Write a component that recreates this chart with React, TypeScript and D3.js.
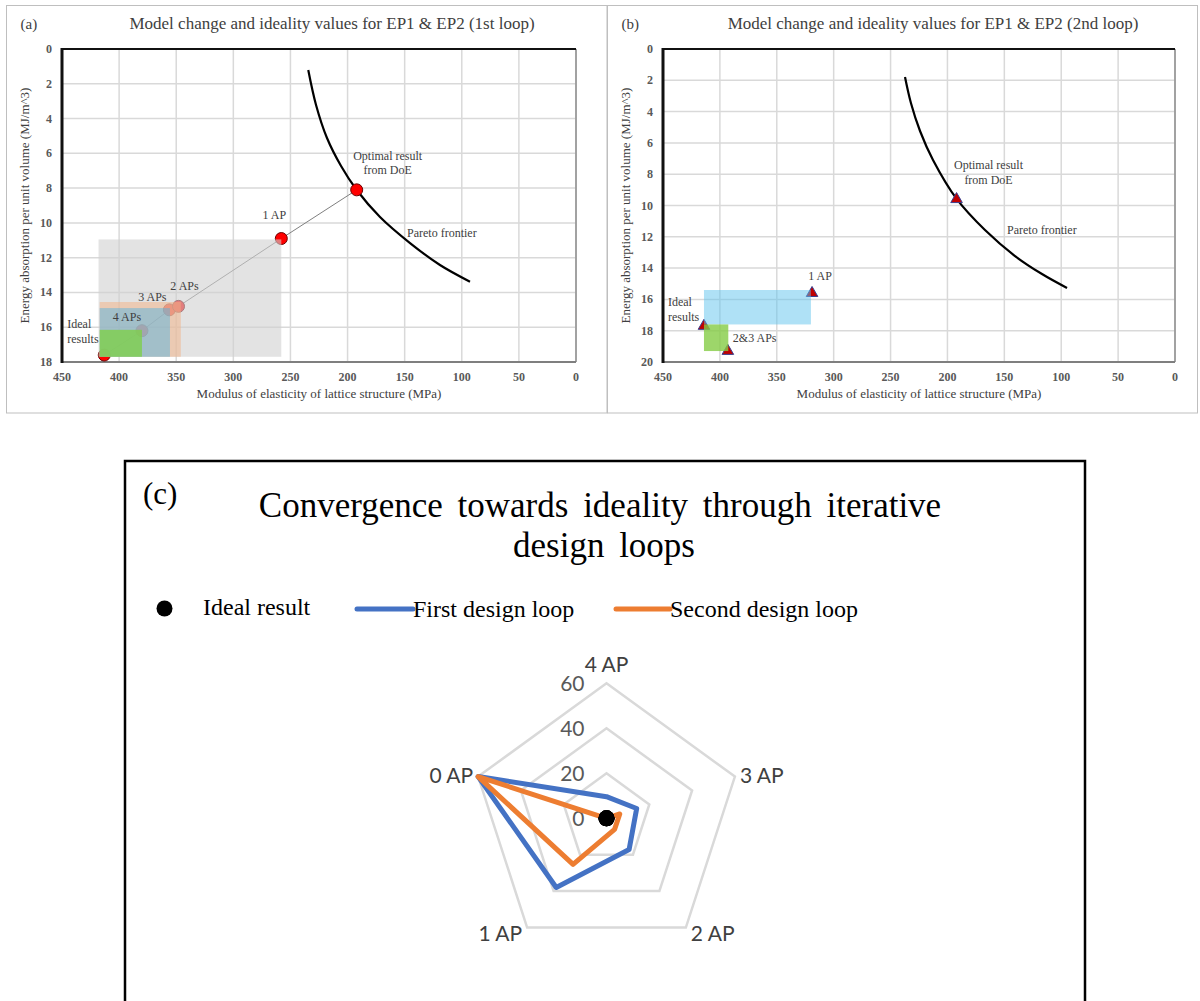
import React from "react";
import * as d3 from "d3";

// ---------------- Data: panels (a) and (b) ----------------
const xTickValues = [450, 400, 350, 300, 250, 200, 150, 100, 50, 0];
const yTickValuesA = [0, 2, 4, 6, 8, 10, 12, 14, 16, 18];
const yTickValuesB = [0, 2, 4, 6, 8, 10, 12, 14, 16, 18, 20];

const paretoA: [number, number][] = [
  [234.4, 1.21], [227.6, 3.22], [218.0, 5.12], [205.7, 6.73], [192.0, 8.11],
  [171.6, 9.66], [145.3, 11.16], [119.1, 12.42], [92.8, 13.38],
];
const paretoB: [number, number][] = [
  [237.3, 1.79], [232.1, 3.45], [224.1, 5.24], [212.7, 7.09], [191.9, 9.58],
  [167.0, 11.57], [140.6, 13.23], [116.9, 14.38], [94.9, 15.27],
];

const pointNamesA = ["Ideal results", "4 APs", "3 APs", "2 APs", "1 AP", "Optimal result"];
const pointXA = [413, 380, 356, 348, 258, 192];
const pointYA = [17.6, 16.2, 15.0, 14.8, 10.9, 8.1];

const pointNamesB = ["Ideal results", "2&3 APs", "1 AP", "Optimal result"];
const pointXB = [414, 393, 319, 192];
const pointYB = [17.7, 19.3, 15.6, 9.6];

// ranges of the shaded regions [x0, x1, y0, y1]
const rectsA: [number, number, number, number][] = [
  [418, 258, 10.95, 17.7],
  [417, 346, 14.55, 17.7],
  [417, 355.5, 14.9, 17.7],
  [417, 380, 16.15, 17.7],
];
const rectsB: [number, number, number, number][] = [
  [414, 320, 15.4, 17.6],
  [414, 392.6, 17.6, 19.3],
];

// ---------------- Data: panel (c) radar ----------------
const radarAxes = ["4 AP", "3 AP", "2 AP", "1 AP", "0 AP"];
const firstLoop = [9.6, 14.1, 17.1, 38, 60];
const secondLoop = [0, 6.2, 6.1, 25.3, 60];
const idealResult = [0, 0, 0, 0, 0];
const radarTicks = [0, 20, 40, 60];

// ---------------- Styles ----------------
const SERIF = '"Liberation Serif", "Times New Roman", serif';
const SANS = 'Lato, "Open Sans", "Liberation Sans", sans-serif';
const TXT = "#404040";
const GRID = "#d9d9d9";

const rectStylesA = [
  { fill: "#d0d0d0", opacity: 0.6 },
  { fill: "#f4b183", opacity: 0.5 },
  { fill: "#5ab4e0", opacity: 0.5 },
  { fill: "#7ed04b", opacity: 0.8 },
];
const rectStylesB = [
  { fill: "#5fc3ee", opacity: 0.5 },
  { fill: "#84cc45", opacity: 0.8 },
];

type Label = { lines: string[]; idx: number; dx: number; dy: number; anchor: string; fromCurve?: boolean };

const labelsA: Label[] = [
  { lines: ["1 AP"], idx: 4, dx: -7, dy: -20, anchor: "middle" },
  { lines: ["2 APs"], idx: 3, dx: 6, dy: -16, anchor: "middle" },
  { lines: ["3 APs"], idx: 2, dx: -17, dy: -9, anchor: "middle" },
  { lines: ["4 APs"], idx: 1, dx: -15, dy: -10, anchor: "middle" },
  { lines: ["Ideal", "results"], idx: 0, dx: -37, dy: -27, anchor: "start" },
  { lines: ["Optimal result", "from DoE"], idx: 5, dx: 31, dy: -30, anchor: "middle" },
  { lines: ["Pareto frontier"], idx: 6, dx: -3, dy: -6, anchor: "start", fromCurve: true },
];
const labelsB: Label[] = [
  { lines: ["1 AP"], idx: 2, dx: 8, dy: -13, anchor: "middle" },
  { lines: ["Ideal", "results"], idx: 0, dx: -36, dy: -20, anchor: "start" },
  { lines: ["2&3 APs"], idx: 1, dx: 5, dy: -9, anchor: "start" },
  { lines: ["Optimal result", "from DoE"], idx: 3, dx: 32, dy: -30, anchor: "middle" },
  { lines: ["Pareto frontier"], idx: 5, dx: 22, dy: 4, anchor: "start", fromCurve: true },
];

type PanelProps = {
  frame: { x: number; y: number; w: number; h: number };
  plot: { left: number; top: number; right: number; bottom: number };
  yMax: number;
  yTicks: number[];
  pareto: [number, number][];
  px: number[];
  py: number[];
  rects: [number, number, number, number][];
  rectStyles: { fill: string; opacity: number }[];
  labels: Label[];
  marker: "circle" | "triangle";
  connect: boolean;
  title: string;
  titleX: number;
  tag: string;
  yTitleX: number;
};

function ScatterPanel(p: PanelProps) {
  const x = d3.scaleLinear().domain([450, 0]).range([p.plot.left, p.plot.right]);
  const y = d3.scaleLinear().domain([0, p.yMax]).range([p.plot.top, p.plot.bottom]);
  const curve = d3
    .line<[number, number]>()
    .x((d) => x(d[0]))
    .y((d) => y(d[1]))
    .curve(d3.curveCatmullRom.alpha(0.5));
  const idxs = p.px.map((_, i) => i);
  const connector = d3
    .line<number>()
    .x((i) => x(p.px[i]))
    .y((i) => y(p.py[i]));
  const tri = d3.symbol().type(d3.symbolTriangle).size(58)() as string;
  const midY = (p.plot.top + p.plot.bottom) / 2;
  const midX = (p.plot.left + p.plot.right) / 2;
  return (
    <g>
      <rect x={p.frame.x} y={p.frame.y} width={p.frame.w} height={p.frame.h} fill="#fff" stroke="#bfbfbf" strokeWidth={1} />
      <text x={p.frame.x + 14} y={29} fontFamily={SERIF} fontSize={15} fill={TXT}>{p.tag}</text>
      <text x={p.titleX} y={29} textAnchor="middle" fontFamily={SERIF} fontSize={17} fill={TXT}>{p.title}</text>
      {/* grid */}
      {xTickValues.map((v) => (
        <line key={"gx" + v} x1={x(v)} x2={x(v)} y1={p.plot.top} y2={p.plot.bottom} stroke={GRID} strokeWidth={1.5} />
      ))}
      {p.yTicks.map((v) => (
        <line key={"gy" + v} x1={p.plot.left} x2={p.plot.right} y1={y(v)} y2={y(v)} stroke={GRID} strokeWidth={1.5} />
      ))}
      {/* frame lines */}
      <line x1={p.plot.right} x2={p.plot.right} y1={p.plot.top} y2={p.plot.bottom} stroke="#8c8c8c" strokeWidth={1.5} />
      <line x1={p.plot.left} x2={p.plot.right} y1={p.plot.bottom} y2={p.plot.bottom} stroke="#7f7f7f" strokeWidth={2} />
      <line x1={p.plot.left} x2={p.plot.right} y1={p.plot.top} y2={p.plot.top} stroke="#111" strokeWidth={2.2} />
      <line x1={p.plot.left} x2={p.plot.left} y1={p.plot.top - 1} y2={p.plot.bottom + 1} stroke="#111" strokeWidth={3} />
      {/* tick labels */}
      {xTickValues.map((v) => (
        <text key={"tx" + v} x={x(v)} y={p.plot.bottom + 19} textAnchor="middle" fontFamily={SERIF} fontWeight="bold" fontSize={12} fill="#595959">{v}</text>
      ))}
      {p.yTicks.map((v) => (
        <text key={"ty" + v} x={p.plot.left - 10} y={y(v) + 4} textAnchor="end" fontFamily={SERIF} fontWeight="bold" fontSize={12} fill="#595959">{v}</text>
      ))}
      <text x={midX} y={p.plot.bottom + 36} textAnchor="middle" fontFamily={SERIF} fontSize={13} fill={TXT}>
        Modulus of elasticity of lattice structure (MPa)
      </text>
      <text transform={`translate(${p.yTitleX},${midY}) rotate(-90)`} textAnchor="middle" fontFamily={SERIF} fontSize={13} fill={TXT}>
        Energy absorption per unit volume (MJ/m^3)
      </text>
      {/* pareto frontier */}
      <path d={curve(p.pareto) || ""} fill="none" stroke="#000" strokeWidth={2.2} />
      {p.connect && <path d={connector(idxs) || ""} fill="none" stroke="#7f7f7f" strokeWidth={1} />}
      {/* points */}
      {idxs.map((i) =>
        p.marker === "circle" ? (
          <circle key={"pt" + i} cx={x(p.px[i])} cy={y(p.py[i])} r={6} fill="#ff0000" stroke="#6b0000" strokeWidth={1} />
        ) : (
          <path key={"pt" + i} d={tri} transform={`translate(${x(p.px[i])},${y(p.py[i])})`} fill="#c00000" stroke="#3a3f8f" strokeWidth={1} />
        )
      )}
      {/* shaded regions */}
      {p.rects.map((r, i) => (
        <rect
          key={"r" + i}
          x={Math.min(x(r[0]), x(r[1]))}
          y={y(r[2])}
          width={Math.abs(x(r[1]) - x(r[0]))}
          height={y(r[3]) - y(r[2])}
          fill={p.rectStyles[i].fill}
          opacity={p.rectStyles[i].opacity}
        />
      ))}
      {/* labels */}
      {p.labels.map((l, k) => {
        const ax = l.fromCurve ? x(p.pareto[l.idx][0]) : x(p.px[l.idx]);
        const ay = l.fromCurve ? y(p.pareto[l.idx][1]) : y(p.py[l.idx]);
        return (
          <text key={"l" + k} x={ax + l.dx} y={ay + l.dy} textAnchor={l.anchor as any} fontFamily={SERIF} fontSize={12} fill={TXT}>
            {l.lines.map((s, j) => (
              <tspan key={j} x={ax + l.dx} dy={j === 0 ? 0 : 14.5}>{s}</tspan>
            ))}
          </text>
        );
      })}
    </g>
  );
}

function Radar() {
  const cx = 606.5;
  const cy = 818.3;
  const r = d3.scaleLinear().domain([0, 60]).range([0, 135]);
  const ang = (i: number) => (i * 2 * Math.PI) / radarAxes.length;
  const radial = d3
    .lineRadial<number>()
    .angle((_, i) => ang(i))
    .radius((v) => r(v))
    .curve(d3.curveLinearClosed);
  const gridLevels = radarTicks.filter((t) => t > 0);
  return (
    <g>
      <rect x={125} y={461} width={960} height={620} fill="#fff" stroke="#000" strokeWidth={2.5} />
      <text x={143} y={504} fontFamily={SERIF} fontSize={31} fill="#000">(c)</text>
      <text x={600} y={517} textAnchor="middle" fontFamily={SERIF} fontSize={35} wordSpacing={6} fill="#000">
        Convergence towards ideality through iterative
      </text>
      <text x={604} y={557} textAnchor="middle" fontFamily={SERIF} fontSize={35} wordSpacing={6} fill="#000">
        design loops
      </text>
      {/* legend */}
      <circle cx={164.5} cy={608.5} r={8} fill="#000" />
      <text x={203} y={615} fontFamily={SERIF} fontSize={24} fill="#000">Ideal result</text>
      <line x1={357} x2={413} y1={609} y2={609} stroke="#4472c4" strokeWidth={5} strokeLinecap="round" />
      <text x={413} y={617} fontFamily={SERIF} fontSize={24} fill="#000">First design loop</text>
      <line x1={616} x2={670} y1={609} y2={609} stroke="#ed7d31" strokeWidth={5} strokeLinecap="round" />
      <text x={670} y={617} fontFamily={SERIF} fontSize={24} fill="#000">Second design loop</text>
      <g transform={`translate(${cx},${cy})`}>
        {gridLevels.map((t) => (
          <path key={"g" + t} d={radial(radarAxes.map(() => t)) || ""} fill="none" stroke={GRID} strokeWidth={2.5} />
        ))}
        {radarTicks.map((t) => (
          <text key={"t" + t} x={-22} y={-r(t) + 8} textAnchor="end" fontFamily={SANS} fontSize={21} fill="#595959">{t}</text>
        ))}
        {radarAxes.map((name, i) => {
          const a = ang(i);
          const vx = Math.sin(a) * r(60);
          const vy = -Math.cos(a) * r(60);
          const s = Math.sin(a);
          let anchor = "middle";
          let dx = 0;
          let dy = 0;
          if (Math.abs(s) < 0.1) {
            dy = -19;
          } else {
            anchor = s > 0 ? "start" : "end";
            dx = s > 0 ? 5 : -5;
            dy = Math.cos(a) < 0 ? 6 : -1;
          }
          return (
            <text key={name} x={vx + dx} y={vy + dy} dy="0.35em" textAnchor={anchor as any} fontFamily={SANS} fontSize={21} fill={TXT}>{name}</text>
          );
        })}
        <path d={radial(firstLoop) || ""} fill="none" stroke="#4472c4" strokeWidth={5} strokeLinejoin="round" />
        <path d={radial(secondLoop) || ""} fill="none" stroke="#ed7d31" strokeWidth={5} strokeLinejoin="round" />
        {idealResult.map((v, i) => (
          <circle key={"id" + i} cx={Math.sin(ang(i)) * r(v)} cy={-Math.cos(ang(i)) * r(v)} r={8} fill="#000" />
        ))}
      </g>
    </g>
  );
}

export default function App() {
  return (
    <svg width={1200} height={1001} style={{ position: "absolute", left: 0, top: 0, background: "#fff" }}>
      <rect x={0} y={0} width={1200} height={1001} fill="#fff" />
      <ScatterPanel
        frame={{ x: 6.5, y: 5.5, w: 600.5, h: 407.5 }}
        plot={{ left: 62, top: 49, right: 576, bottom: 362 }}
        yMax={18}
        yTicks={yTickValuesA}
        pareto={paretoA}
        px={pointXA}
        py={pointYA}
        rects={rectsA}
        rectStyles={rectStylesA}
        labels={labelsA}
        marker="circle"
        connect={true}
        title="Model change and ideality values for EP1 & EP2 (1st loop)"
        titleX={332}
        tag="(a)"
        yTitleX={29}
      />
      <ScatterPanel
        frame={{ x: 607.5, y: 5.5, w: 590, h: 407.5 }}
        plot={{ left: 663, top: 49, right: 1175, bottom: 362 }}
        yMax={20}
        yTicks={yTickValuesB}
        pareto={paretoB}
        px={pointXB}
        py={pointYB}
        rects={rectsB}
        rectStyles={rectStylesB}
        labels={labelsB}
        marker="triangle"
        connect={false}
        title="Model change and ideality values for EP1 & EP2 (2nd loop)"
        titleX={933}
        tag="(b)"
        yTitleX={630}
      />
      <Radar />
    </svg>
  );
}
